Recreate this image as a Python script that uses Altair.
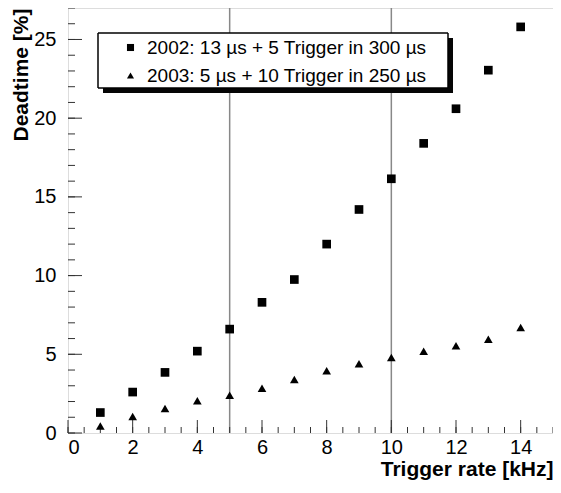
import altair as alt
import pandas as pd

rates = list(range(1, 15))
dt2002 = [1.3, 2.6, 3.85, 5.2, 6.6, 8.3, 9.75, 12.0, 14.2, 16.15, 18.4, 20.6, 23.05, 25.8]
dt2003 = [0.45, 1.05, 1.55, 2.05, 2.4, 2.85, 3.4, 3.95, 4.4, 4.8, 5.2, 5.55, 5.95, 6.7]
series = ["2002: 13 µs + 5 Trigger in 300 µs", "2003: 5 µs + 10 Trigger in 250 µs"]
vlines = [5, 10]
x_major = [0, 2, 4, 6, 8, 10, 12, 14]
x_minor = [v / 2 for v in range(0, 31)]
y_major = [0, 5, 10, 15, 20, 25]
y_minor = list(range(0, 28))

W, H = 485, 425
FONT = "Liberation Sans"

df = pd.DataFrame({
    "rate": rates * 2,
    "deadtime": dt2002 + dt2003,
    "series": [series[0]] * len(rates) + [series[1]] * len(rates),
})

xs = alt.Scale(domain=[0, 15], nice=False, zero=False)
ys = alt.Scale(domain=[0, 27], nice=False, zero=False)

x_axis = alt.Axis(values=x_major, format="d", ticks=False, domain=False, grid=False,
                  labelFontSize=20, labelPadding=4, labelFont=FONT, labelColor="black",
                  title="Trigger rate [kHz]", titleFont=FONT, titleFontSize=21,
                  titleFontWeight="bold", titleAnchor="end", titlePadding=1,
                  titleColor="black")
y_axis = alt.Axis(values=y_major, format="d", ticks=False, domain=False, grid=False,
                  labelFontSize=20, labelPadding=12, labelFont=FONT, labelColor="black",
                  title="Deadtime [%]", titleFont=FONT, titleFontSize=21,
                  titleFontWeight="bold", titleAnchor="end", titlePadding=2,
                  titleColor="black")

base_x = alt.X("v:Q", scale=xs, axis=x_axis, title="Trigger rate [kHz]")
base_y = alt.Y("v:Q", scale=ys, axis=y_axis, title="Deadtime [%]")

xmin = alt.Chart(pd.DataFrame({"v": x_minor})).mark_rule(color="#333", strokeWidth=1).encode(
    x=base_x, y=alt.value(H), y2=alt.value(H - 6))
xmaj = alt.Chart(pd.DataFrame({"v": x_major})).mark_rule(color="#333", strokeWidth=1).encode(
    x=base_x, y=alt.value(H), y2=alt.value(H - 13))
ymin = alt.Chart(pd.DataFrame({"v": y_minor})).mark_rule(color="#333", strokeWidth=1).encode(
    y=base_y, x=alt.value(0), x2=alt.value(7))
ymaj = alt.Chart(pd.DataFrame({"v": y_major})).mark_rule(color="#333", strokeWidth=1).encode(
    y=base_y, x=alt.value(0), x2=alt.value(14))

vl = alt.Chart(pd.DataFrame({"v": vlines})).mark_rule(color="#888", strokeWidth=1.5).encode(
    x=base_x)

# legend box decoration (pixel positions relative to plot area)
BX0, BX1, BY0, BY1, SH = 30, 380, 25, 80, 5
box_fill = alt.Chart(pd.DataFrame({"a": [1]})).mark_rule(color="white", strokeWidth=BY1 - BY0).encode(
    x=alt.value(BX0), x2=alt.value(BX1), y=alt.value((BY0 + BY1) / 2))
sh_r = alt.Chart(pd.DataFrame({"b": [2]})).mark_rule(color="#050505", strokeWidth=SH, opacity=1).encode(
    x=alt.value(BX1 + SH / 2), y=alt.value(BY0 + SH), y2=alt.value(BY1 + SH))
sh_b = alt.Chart(pd.DataFrame({"c": [3]})).mark_rect(color="#050505", opacity=1).encode(
    x=alt.value(BX0 + SH), x2=alt.value(BX1 + SH), y=alt.value(BY1), y2=alt.value(BY1 + SH))
edges = []
for i, enc in enumerate([dict(x=alt.value(BX0), x2=alt.value(BX1), y=alt.value(BY0)),
            dict(x=alt.value(BX0), x2=alt.value(BX1), y=alt.value(BY1)),
            dict(x=alt.value(BX0), y=alt.value(BY0), y2=alt.value(BY1)),
            dict(x=alt.value(BX1), y=alt.value(BY0), y2=alt.value(BY1))]):
    edges.append(alt.Chart(pd.DataFrame({"e": [10 + i]})).mark_rule(color="black", strokeWidth=1.5).encode(**enc))

pts = alt.Chart(df).mark_point(filled=True, color="black", opacity=1, size=75).encode(
    x=alt.X("rate:Q", scale=xs, axis=x_axis, title="Trigger rate [kHz]"),
    y=alt.Y("deadtime:Q", scale=ys, axis=y_axis, title="Deadtime [%]"),
    shape=alt.Shape("series:N",
                    scale=alt.Scale(domain=series, range=["square", "triangle-up"]),
                    legend=alt.Legend(title=None, orient="none", legendX=BX0, legendY=30,
                                      padding=0, strokeColor="transparent",
                                      labelFont=FONT, labelFontSize=19, labelColor="black",
                                      symbolFillColor="black", symbolStrokeColor="black",
                                      symbolSize=50, symbolOffset=23, labelOffset=7,
                                      rowPadding=8, labelLimit=400)),
)

chart = alt.layer(vl, xmin, xmaj, ymin, ymaj, box_fill, sh_r, sh_b, *edges, pts).properties(
    width=W, height=H,
    autosize=alt.AutoSizeParams(type="none"),
    padding={"left": 60, "top": 0, "right": 0, "bottom": 52},
).configure_view(stroke="#333", strokeWidth=1.5).configure(background="white")

chart.save("out.html", embed_options={"renderer": "svg", "actions": False})
